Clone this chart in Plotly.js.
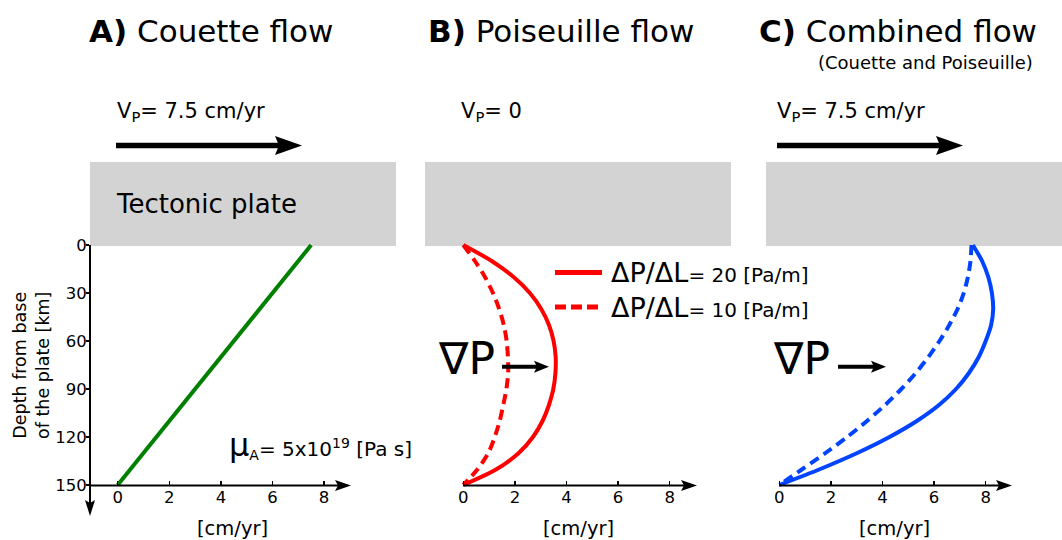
<!DOCTYPE html>
<html><head><meta charset="utf-8">
<script src="https://cdn.plot.ly/plotly-3.0.1.min.js"></script>
<style>body{margin:0;background:#fff}#chart{width:1062px;height:540px}</style>
</head><body><div id="chart"></div>
<script>
// ---------- data ----------
const depthKm = [0, 10, 20, 30, 40, 50, 60, 70, 80, 90, 100, 110, 120, 130, 140, 150];
const couetteDepth = [0, 150];
const couetteVel = [7.5, 0];
const poiseuille20 = [0, 1.1, 1.95, 2.58, 3.02, 3.32, 3.5, 3.58, 3.57, 3.49, 3.32, 3.07, 2.7, 2.15, 1.3, 0];
const poiseuille10 = [0, 0.45, 0.84, 1.15, 1.39, 1.57, 1.68, 1.73, 1.74, 1.67, 1.55, 1.41, 1.22, 0.97, 0.56, 0];
const combined20 = [7.5, 7.86, 8.1, 8.24, 8.29, 8.21, 8.0, 7.73, 7.35, 6.85, 6.19, 5.33, 4.27, 3.02, 1.59, 0];
const combined10 = [7.45, 7.41, 7.31, 7.15, 6.91, 6.59, 6.21, 5.78, 5.29, 4.73, 4.1, 3.4, 2.63, 1.79, 0.9, 0];
const xTickVals = [0, 2, 4, 6, 8];
const yTickVals = [0, 30, 60, 90, 120, 150];
const panelTitles = ['<b>A)</b> Couette flow', '<b>B)</b> Poiseuille flow', '<b>C)</b> Combined flow'];
const legendLabels = ['ΔP/ΔL', '= 20 [Pa/m]', '= 10 [Pa/m]'];

// ---------- helpers ----------
const W = 1062, H = 540;
const px = x => x / W, py = y => 1 - y / H;
const FONT = 'DejaVu Sans';

function arrow(x0, y0, x1, y1, lw, hl, hw, notch) {
  const dx = x1 - x0, dy = y1 - y0, L = Math.hypot(dx, dy), ux = dx / L, uy = dy / L, nx = -uy, ny = ux;
  const bx = x1 - ux * hl, by = y1 - uy * hl;
  const mx = x1 - ux * (hl - notch), my = y1 - uy * (hl - notch);
  const pts = [[x1, y1], [bx + nx * hw / 2, by + ny * hw / 2], [mx, my], [bx - nx * hw / 2, by - ny * hw / 2]];
  const path = 'M' + pts.map(p => px(p[0]) + ',' + py(p[1])).join('L') + 'Z';
  return [
    {type: 'line', xref: 'paper', yref: 'paper', x0: px(x0), y0: py(y0), x1: px(mx + ux * 2), y1: py(my + uy * 2),
     line: {color: 'black', width: lw}},
    {type: 'path', xref: 'paper', yref: 'paper', path: path, fillcolor: 'black', line: {color: 'black', width: 0}}
  ];
}
function plate(x0, x1) {
  return {type: 'rect', xref: 'paper', yref: 'paper', x0: px(x0), x1: px(x1), y0: py(246), y1: py(162),
          fillcolor: '#d3d3d3', line: {width: 0}, layer: 'below'};
}
function note(text, x, y, size, opts) {
  return Object.assign({text: text, x: px(x), y: py(y), xref: 'paper', yref: 'paper', showarrow: false,
    xanchor: 'left', yanchor: 'middle', font: {family: FONT, size: size, color: 'black'}}, opts || {});
}

// ---------- traces ----------
const RED = '#ff0000', BLUE = '#0044ff', GREEN = '#008000';
const SPL = {shape: 'spline', smoothing: 0.8};
const traces = [
  {x: couetteVel, y: couetteDepth, xaxis: 'x', yaxis: 'y', mode: 'lines', line: {color: GREEN, width: 4}, showlegend: false},
  {x: poiseuille20, y: depthKm, xaxis: 'x2', yaxis: 'y2', mode: 'lines', line: Object.assign({color: RED, width: 4}, SPL), showlegend: false},
  {x: poiseuille10, y: depthKm, xaxis: 'x2', yaxis: 'y2', mode: 'lines', line: Object.assign({color: RED, width: 4, dash: '10px,6px'}, SPL), showlegend: false},
  {x: combined20, y: depthKm, xaxis: 'x3', yaxis: 'y3', mode: 'lines', line: Object.assign({color: BLUE, width: 4}, SPL), showlegend: false},
  {x: combined10, y: depthKm, xaxis: 'x3', yaxis: 'y3', mode: 'lines', line: Object.assign({color: BLUE, width: 4, dash: '10px,6px'}, SPL), showlegend: false}
];

// ---------- axes ----------
const PXU = 25.8;
function xax(x0px, rmin) {
  const rmax = 9.05;
  return {domain: [px(x0px + rmin * PXU), px(x0px + rmax * PXU)], range: [rmin, rmax],
    anchor: 'free', position: py(485.5), showline: false, showgrid: false, zeroline: false,
    ticks: 'inside', ticklen: 5, tickwidth: 1.5, tickcolor: 'black', tickvals: xTickVals,
    tickfont: {family: FONT, size: 16.5, color: 'black'}, fixedrange: true};
}
const yDomain = [py(487), py(243)];
const yRange = [151.25, -1.25];
const layout = {
  width: W, height: H, margin: {l: 0, r: 0, t: 0, b: 0},
  paper_bgcolor: 'white', plot_bgcolor: 'rgba(0,0,0,0)', showlegend: false,
  font: {family: FONT, color: 'black'},
  xaxis: xax(117.7, -1.074),
  xaxis2: xax(463.3, -0.1),
  xaxis3: xax(779.3, -0.1),
  yaxis: {domain: yDomain, range: yRange, anchor: 'x', showline: false, showgrid: false, zeroline: false,
    ticks: 'outside', ticklen: 3, tickwidth: 1.5, tickcolor: 'black', tickvals: yTickVals, ticklabelstandoff: -4,
    tickfont: {family: FONT, size: 16.5, color: 'black'}, fixedrange: true},
  yaxis2: {domain: yDomain, range: yRange, anchor: 'x2', visible: false},
  yaxis3: {domain: yDomain, range: yRange, anchor: 'x3', visible: false},
  shapes: [].concat(
    plate(90, 396), plate(425, 731), plate(766, 1062),
    arrow(116, 145.5, 302, 145.5, 5.5, 27, 19, 4),
    arrow(777, 145.5, 963, 145.5, 5.5, 27, 19, 4),
    arrow(90, 485.5, 351, 485.5, 2, 16, 11, 3),
    arrow(463, 485.5, 697, 485.5, 2, 16, 11, 3),
    arrow(779, 485.5, 1012, 485.5, 2, 16, 11, 3),
    arrow(90, 245, 90, 516, 2, 16, 10, 3),
    arrow(502, 366.7, 549, 366.7, 4, 15, 12, 3),
    arrow(838, 366.7, 886, 366.7, 4, 15, 12, 3),
    [
      {type: 'line', xref: 'paper', yref: 'paper', x0: px(555), x1: px(602), y0: py(272.5), y1: py(272.5), line: {color: RED, width: 5}},
      {type: 'line', xref: 'paper', yref: 'paper', x0: px(555), x1: px(602), y0: py(307), y1: py(307), line: {color: RED, width: 5, dash: '11px,5px'}}
    ]
  ),
  annotations: [
    note(panelTitles[0], 87, 31, 31),
    note(panelTitles[1], 426, 31, 31),
    note(panelTitles[2], 757, 31, 31),
    note('(Couette and Poiseuille)', 816, 62, 18),
    note('V<sub>P</sub>= 7.5 cm/yr', 115, 112, 21),
    note('V<sub>P</sub>= 0', 459, 112, 21),
    note('V<sub>P</sub>= 7.5 cm/yr', 775, 112, 21),
    note('Tectonic plate', 114, 204, 26),
    note('∇P', 436, 358, 44),
    note('∇P', 771, 358, 44),
    note('<span style="font-size:32px">μ</span><sub>A</sub>= 5x10<sup>19</sup> [Pa s]', 227, 445, 20),
    note('<span style="font-size:27px">' + legendLabels[0] + '</span>' + legendLabels[1], 609, 272, 20),
    note('<span style="font-size:27px">' + legendLabels[0] + '</span>' + legendLabels[2], 609, 307, 20),
    note('[cm/yr]', 232, 528, 19.5, {xanchor: 'center'}),
    note('[cm/yr]', 578, 528, 19.5, {xanchor: 'center'}),
    note('[cm/yr]', 894, 528, 19.5, {xanchor: 'center'}),
    note('Depth from base<br>of the plate [km]', 31, 366, 17.5, {xanchor: 'center', textangle: -90})
  ]
};
Plotly.newPlot('chart', traces, layout, {staticPlot: true, displayModeBar: false});
</script>
</body></html>
